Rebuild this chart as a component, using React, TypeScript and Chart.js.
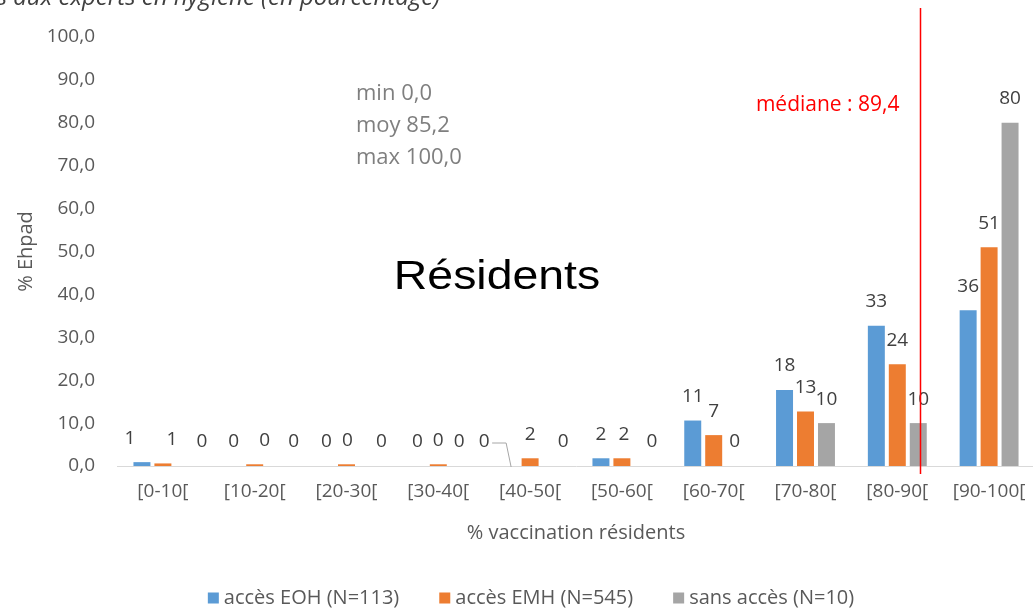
import { useEffect, useRef } from 'react';
import { Chart, registerables } from 'chart.js';

Chart.register(...registerables);

const categories = ['[0-10[', '[10-20[', '[20-30[', '[30-40[', '[40-50[', '[50-60[', '[60-70[', '[70-80[', '[80-90[', '[90-100['];
const seriesNames = ['accès EOH (N=113)', 'accès EMH (N=545)', 'sans accès (N=10)'];
const eohValues = [0.9, 0, 0, 0, 0, 1.8, 10.6, 17.7, 32.7, 36.3];
const emhValues = [0.6, 0.4, 0.4, 0.4, 1.8, 1.8, 7.2, 12.7, 23.7, 51.0];
const sansValues = [0, 0, 0, 0, 0, 0, 0, 10, 10, 80];
const statLines = ['min 0,0', 'moy 85,2', 'max 100,0'];
const medianText = 'médiane : 89,4';
const centerText = 'Résidents';
const titleText = "Répartition des Ehpad selon l'accès aux experts en hygiène (en pourcentage)";
const xTitle = '% vaccination résidents';
const yTitle = '% Ehpad';

const COLORS = ['#5B9BD5', '#ED7D31', '#A5A5A5'];
const FONT = "'Open Sans', 'Noto Sans', sans-serif";

// label nudges (px) for crowded small values: key `${dataset}-${index}`
const labelNudges: Record<string, number> = {
  '0-0': -12, '1-0': 9, '2-0': 18,
  '1-1': 10, '2-1': 18,
  '0-2': 1, '1-2': 1, '2-2': 14,
  '0-4': -25, '2-4': 12,
  '1-5': 2, '2-5': 9,
};

const overlayPlugin = {
  id: 'overlay',
  afterDatasetsDraw(chart: any) {
    const ctx = chart.ctx;
    const base = chart.scales.y.getPixelForValue(0);
    ctx.save();
    ctx.font = `19px ${FONT}`;
    ctx.fillStyle = '#404040';
    ctx.textAlign = 'center';
    ctx.textBaseline = 'middle';
    chart.data.datasets.forEach((ds: any, di: number) => {
      const meta = chart.getDatasetMeta(di);
      meta.data.forEach((bar: any, i: number) => {
        const key = `${di}-${i}`;
        const nx = labelNudges[key] || 0;
        const lx = bar.x + nx;
        const ly = bar.y - 24;
        ctx.fillText(String(Math.round(ds.data[i])), lx, ly);
        if (key === '0-4') {
          ctx.strokeStyle = '#A6A6A6';
          ctx.lineWidth = 1;
          ctx.beginPath();
          ctx.moveTo(lx + 8, ly + 1);
          ctx.lineTo(bar.x - 3, ly + 1);
          ctx.lineTo(bar.x + 2, base + 1);
          ctx.stroke();
        }
      });
    });
    ctx.restore();
  },
  afterDraw(chart: any) {
    const ctx = chart.ctx;
    const xs = chart.scales.x;
    const area = chart.chartArea;
    ctx.save();

    // cropped title at top
    ctx.font = `italic 24px ${FONT}`;
    ctx.fillStyle = '#404040';
    ctx.textAlign = 'right';
    ctx.textBaseline = 'alphabetic';
    ctx.fillText(titleText, 440, 5);

    // stats
    ctx.font = `22px ${FONT}`;
    ctx.fillStyle = '#7F7F7F';
    ctx.textAlign = 'left';
    ctx.textBaseline = 'middle';
    statLines.forEach((t, i) => ctx.fillText(t, 356, 94 + i * 32));

    // Résidents
    ctx.save();
    ctx.translate(497, 289);
    ctx.scale(1.16, 1);
    ctx.font = `40px 'Liberation Sans', Arial, sans-serif`;
    ctx.fillStyle = '#000000';
    ctx.textAlign = 'center';
    ctx.textBaseline = 'alphabetic';
    ctx.fillText(centerText, 0, 0);
    ctx.restore();

    // median line
    const step = xs.getPixelForValue(9) - xs.getPixelForValue(8);
    const mx = Math.round(xs.getPixelForValue(8) + step * 0.25) + 0.5;
    ctx.strokeStyle = '#FF0000';
    ctx.lineWidth = 1.5;
    ctx.beginPath();
    ctx.moveTo(mx, 8);
    ctx.lineTo(mx, area.bottom + 8);
    ctx.stroke();
    ctx.font = `21px ${FONT}`;
    ctx.fillStyle = '#FF0000';
    ctx.textAlign = 'right';
    ctx.textBaseline = 'middle';
    ctx.fillText(medianText, mx - 21, 105);

    // legend
    ctx.font = `20px ${FONT}`;
    ctx.textAlign = 'left';
    ctx.textBaseline = 'middle';
    const box = 11;
    const gap = 5;
    const itemGap = 40;
    const widths = seriesNames.map((n) => box + gap + ctx.measureText(n).width);
    const total = widths.reduce((a, b) => a + b, 0) + itemGap * (seriesNames.length - 1);
    let lx = 531 - total / 2;
    const ly = 598;
    seriesNames.forEach((n, i) => {
      ctx.fillStyle = COLORS[i];
      ctx.fillRect(lx, ly - box / 2, box, box);
      ctx.fillStyle = '#595959';
      ctx.fillText(n, lx + box + gap, ly);
      lx += widths[i] + itemGap;
    });

    ctx.restore();
  },
};

export default function App() {
  const ref = useRef<HTMLCanvasElement | null>(null);
  useEffect(() => {
    if (!ref.current) return;
    const chart = new Chart(ref.current, {
      type: 'bar',
      data: {
        labels: categories,
        datasets: [
          { label: seriesNames[0], data: eohValues, backgroundColor: COLORS[0] },
          { label: seriesNames[1], data: emhValues, backgroundColor: COLORS[1] },
          { label: seriesNames[2], data: sansValues, backgroundColor: COLORS[2] },
        ],
      },
      options: {
        responsive: false,
        animation: false,
        devicePixelRatio: 1,
        layout: { padding: { top: 37, right: 5, bottom: 0, left: 0 } },
        datasets: { bar: { categoryPercentage: 0.685, barPercentage: 0.81 } },
        plugins: {
          legend: { display: false },
          tooltip: { enabled: false },
          title: { display: false },
        },
        scales: {
          x: {
            grid: { display: false, drawTicks: false },
            border: { display: true, color: '#D9D9D9', width: 1 },
            ticks: { color: '#595959', font: { family: FONT, size: 19 }, padding: 14, maxRotation: 0, autoSkip: false },
            title: { display: true, text: xTitle, color: '#595959', font: { family: FONT, size: 20 }, padding: { top: 0, bottom: 64 } },
            afterFit: (s: any) => { s.height = 143; },
          },
          y: {
            min: 0,
            max: 100,
            grid: { display: false, drawTicks: false },
            border: { display: false },
            ticks: {
              stepSize: 10,
              color: '#595959',
              font: { family: FONT, size: 19 },
              padding: 22,
              callback: (v: any) => Number(v).toFixed(1).replace('.', ','),
            },
            title: { display: true, text: yTitle, color: '#595959', font: { family: FONT, size: 20 }, padding: { top: 14, bottom: 0 } },
            afterFit: (s: any) => { s.width = 117; },
          },
        },
      },
      plugins: [overlayPlugin],
    });
    return () => chart.destroy();
  }, []);
  return (
    <div style={{ position: 'fixed', left: 0, top: 0, width: 1033, height: 609, overflow: 'hidden', background: '#ffffff' }}>
      <canvas ref={ref} width={1040} height={609} style={{ display: 'block', width: 1040, height: 609 }} />
    </div>
  );
}
